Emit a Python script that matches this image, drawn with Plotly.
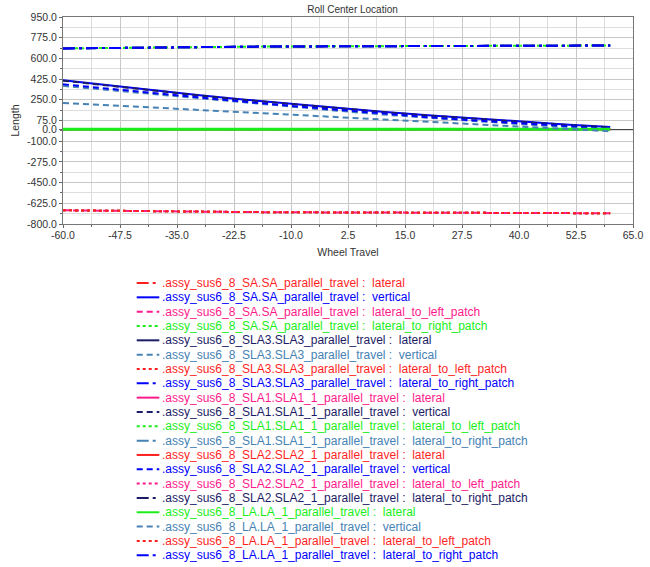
import plotly.graph_objects as go

# ---------------- data ----------------
wheel_travel = [-60, -50, -40, -30, -20, -10, 0, 10, 20, 30, 40, 50, 60]

zero_lateral = [0, 0, 0, 0, 0, 0, 0, 0, 0, 0, 0, 0, 0]
right_patch = [684, 689, 693, 696, 699, 701, 703, 705, 706, 707, 708, 709, 709]
left_patch = [-684, -689, -693, -696, -699, -701, -703, -705, -706, -707, -708, -709, -709]

sa_vertical = [415, 371, 329, 289, 251, 216, 182, 150, 120, 92, 66, 42, 20]
sla1_vertical = [412, 368, 326, 286, 248, 213, 179, 147, 117, 89, 63, 39, 17]
sla2_vertical = [381, 343, 305, 269, 233, 199, 165, 133, 103, 76, 51, 28, 6]
sla3_vertical = [368, 332, 296, 261, 226, 192, 158, 126, 97, 70, 45, 22, 0]
la_vertical = [224, 204, 184, 164, 144, 124, 104, 84, 64, 44, 24, 4, -16]

y_ticks = [950, 775, 600, 425, 250, 75, 0, -100, -275, -450, -625, -800]
x_ticks = [-60, -47.5, -35, -22.5, -10, 2.5, 15, 27.5, 40, 52.5, 65]

RED = "#ff1f1f"
BLUE = "#0000ff"
MAG = "#ff1a8c"
GRN = "#1aee1a"
NAVY = "#1c1c66"
STEEL = "#4682b4"

DASH = "6px,4px"
DOT = "3px,3px"
DASHDOT = "12px,4px,3px,4px"

series = [
    (".assy_sus6_8_SA.SA_parallel_travel", "lateral", zero_lateral, RED, DASHDOT),
    (".assy_sus6_8_SA.SA_parallel_travel", "vertical", sa_vertical, BLUE, "solid"),
    (".assy_sus6_8_SA.SA_parallel_travel", "lateral_to_left_patch", left_patch, MAG, DASH),
    (".assy_sus6_8_SA.SA_parallel_travel", "lateral_to_right_patch", right_patch, GRN, DOT),
    (".assy_sus6_8_SLA3.SLA3_parallel_travel", "lateral", zero_lateral, NAVY, "solid"),
    (".assy_sus6_8_SLA3.SLA3_parallel_travel", "vertical", sla3_vertical, STEEL, DASH),
    (".assy_sus6_8_SLA3.SLA3_parallel_travel", "lateral_to_left_patch", left_patch, RED, DOT),
    (".assy_sus6_8_SLA3.SLA3_parallel_travel", "lateral_to_right_patch", right_patch, BLUE, DASHDOT),
    (".assy_sus6_8_SLA1.SLA1_1_parallel_travel", "lateral", zero_lateral, MAG, "solid"),
    (".assy_sus6_8_SLA1.SLA1_1_parallel_travel", "vertical", sla1_vertical, NAVY, DASH),
    (".assy_sus6_8_SLA1.SLA1_1_parallel_travel", "lateral_to_left_patch", left_patch, GRN, DOT),
    (".assy_sus6_8_SLA1.SLA1_1_parallel_travel", "lateral_to_right_patch", right_patch, STEEL, DASHDOT),
    (".assy_sus6_8_SLA2.SLA2_1_parallel_travel", "lateral", zero_lateral, RED, "solid"),
    (".assy_sus6_8_SLA2.SLA2_1_parallel_travel", "vertical", sla2_vertical, BLUE, DASH),
    (".assy_sus6_8_SLA2.SLA2_1_parallel_travel", "lateral_to_left_patch", left_patch, MAG, DOT),
    (".assy_sus6_8_SLA2.SLA2_1_parallel_travel", "lateral_to_right_patch", right_patch, NAVY, DASHDOT),
    (".assy_sus6_8_LA.LA_1_parallel_travel", "lateral", zero_lateral, GRN, "solid"),
    (".assy_sus6_8_LA.LA_1_parallel_travel", "vertical", la_vertical, STEEL, DASH),
    (".assy_sus6_8_LA.LA_1_parallel_travel", "lateral_to_left_patch", left_patch, RED, DOT),
    (".assy_sus6_8_LA.LA_1_parallel_travel", "lateral_to_right_patch", right_patch, BLUE, DASHDOT),
]

W, H = 650, 567
ML, MR, MT, MB = 63, 7, 17, 343
PW, PH = W - ML - MR, H - MT - MB

FONT = "Liberation Sans, Arial, sans-serif"
fig = go.Figure()

# custom legend geometry (pixels)
LEG_ROW0 = 283.0
LEG_ROW_H = 14.33
LEG_LINE_X0, LEG_LINE_X1, LEG_TEXT_X = 138, 161, 161.5


def px_x(p):
    return (p - ML) / PW


def px_y(p):
    return (MT + PH - p) / PH


for i, (name, comp, vals, color, dash) in enumerate(series):
    lw = 3 if (color == GRN and dash == "solid") else 2
    fig.add_trace(go.Scatter(
        x=wheel_travel, y=vals, mode="lines",
        line=dict(color=color, width=lw, dash=dash),
        name=f"{name} : {comp}", showlegend=False, hoverinfo="skip",
    ))
    yc = px_y(LEG_ROW0 + i * LEG_ROW_H)
    fig.add_shape(type="line", xref="paper", yref="paper",
                  x0=px_x(LEG_LINE_X0), x1=px_x(LEG_LINE_X1), y0=yc, y1=yc,
                  line=dict(color=color, width=2, dash=dash))
    fig.add_annotation(xref="paper", yref="paper", x=px_x(LEG_TEXT_X), y=yc,
                       xanchor="left", yanchor="middle", showarrow=False,
                       text=f"{name} :  {comp}",
                       font=dict(family=FONT, size=12, color=color))

fig.update_layout(
    width=W, height=H,
    margin=dict(l=ML, r=MR, t=MT, b=MB),
    paper_bgcolor="white", plot_bgcolor="white",
    font=dict(family=FONT, size=10.5, color="#333333"),
    title=dict(text="Roll Center Location", x=352.5 / W, xanchor="center",
               y=1 - 9 / H, yanchor="middle", font=dict(size=10, color="#333333")),
    showlegend=False,
)
fig.update_xaxes(
    range=[-60, 65], tickmode="array", tickvals=x_ticks,
    ticktext=[f"{v:.1f}" for v in x_ticks], ticklabeloverflow="allow",
    ticklabelstandoff=-2,
    showgrid=True, gridcolor="#c8c8c8", gridwidth=1,
    minor=dict(tick0=-60, dtick=6.25, showgrid=True, gridcolor="#dddddd",
               ticks="outside", ticklen=2, tickcolor="#666666"),
    ticks="outside", ticklen=3, tickcolor="#666666",
    showline=True, linecolor="#777777", mirror=True, zeroline=False,
    title=dict(text="Wheel Travel", standoff=9, font=dict(size=10.5, color="#333333")),
    tickfont=dict(size=10.5, color="#333333"),
)
fig.update_yaxes(
    range=[-800, 950], tickmode="array", tickvals=y_ticks,
    ticktext=[f"{v:.1f}" for v in y_ticks], ticklabeloverflow="allow",
    showgrid=True, gridcolor="#c8c8c8", gridwidth=1,
    minor=dict(tick0=-800, dtick=87.5, showgrid=True, gridcolor="#dddddd",
               ticks="outside", ticklen=2, tickcolor="#666666"),
    ticks="outside", ticklen=3, tickcolor="#666666",
    showline=True, linecolor="#777777", mirror=True,
    zeroline=True, zerolinecolor="#444444", zerolinewidth=1,
    title=dict(text="Length", standoff=5, font=dict(size=10.5, color="#333333")),
    tickfont=dict(size=10.5, color="#333333"),
)

fig.write_html("out.html", config={"displayModeBar": False},
               post_script="document.body.style.margin='0';document.body.style.overflow='hidden';")
